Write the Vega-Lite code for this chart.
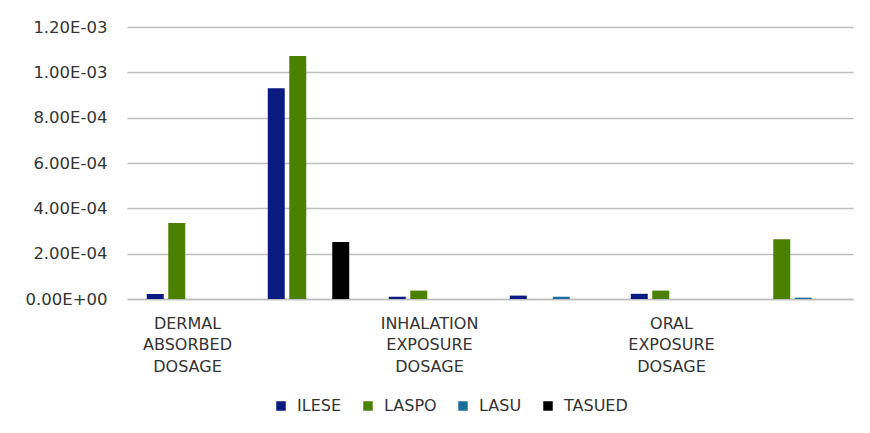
{
  "$schema": "https://vega.github.io/schema/vega-lite/v6.json",
  "autosize": {"type": "none"},
  "width": 726,
  "height": 272,
  "padding": {"left": 127, "top": 27, "right": 17, "bottom": 134},
  "background": "white",
  "config": {
    "view": {"stroke": null},
    "font": "DejaVu Sans"
  },
  "data": {
    "values": [
      {"category": "DERMAL ABSORBED DOSAGE", "site": "ILESE", "value": 0.000022},
      {"category": "DERMAL ABSORBED DOSAGE", "site": "LASPO", "value": 0.000335},
      {"category": "DERMAL ABSORBED DOSAGE (2)", "site": "ILESE", "value": 0.00093},
      {"category": "DERMAL ABSORBED DOSAGE (2)", "site": "LASPO", "value": 0.001072},
      {"category": "DERMAL ABSORBED DOSAGE (2)", "site": "TASUED", "value": 0.000251},
      {"category": "INHALATION EXPOSURE DOSAGE", "site": "ILESE", "value": 0.00001},
      {"category": "INHALATION EXPOSURE DOSAGE", "site": "LASPO", "value": 0.000037},
      {"category": "INHALATION EXPOSURE DOSAGE (2)", "site": "ILESE", "value": 0.000015},
      {"category": "INHALATION EXPOSURE DOSAGE (2)", "site": "LASU", "value": 0.00001},
      {"category": "ORAL EXPOSURE DOSAGE", "site": "ILESE", "value": 0.000023},
      {"category": "ORAL EXPOSURE DOSAGE", "site": "LASPO", "value": 0.000037},
      {"category": "ORAL EXPOSURE DOSAGE (2)", "site": "LASPO", "value": 0.000264},
      {"category": "ORAL EXPOSURE DOSAGE (2)", "site": "LASU", "value": 0.000006}
    ]
  },
  "mark": {"type": "bar"},
  "encoding": {
    "x": {
      "field": "category",
      "type": "nominal",
      "sort": null,
      "scale": {
        "domain": ["DERMAL ABSORBED DOSAGE", "DERMAL ABSORBED DOSAGE (2)", "INHALATION EXPOSURE DOSAGE", "INHALATION EXPOSURE DOSAGE (2)", "ORAL EXPOSURE DOSAGE", "ORAL EXPOSURE DOSAGE (2)"],
        "paddingInner": 0,
        "paddingOuter": 0
      },
      "axis": {
        "title": null,
        "labelAngle": 0,
        "labelExpr": "indexof(datum.label, '(2)') >= 0 ? '' : split(datum.label, ' ')",
        "labelFont": "DejaVu Sans",
        "labelFontSize": 16,
        "labelColor": "#333333",
        "labelBaseline": "middle",
        "labelLineHeight": 21.7,
        "labelPadding": 24,
        "labelLimit": 200,
        "ticks": false,
        "domain": true,
        "domainColor": "#bfbfbf",
        "domainWidth": 1.5,
        "grid": false
      }
    },
    "xOffset": {
      "field": "site",
      "type": "nominal",
      "scale": {"domain": ["ILESE", "LASPO", "LASU", "TASUED"], "paddingInner": 0.21, "paddingOuter": 0.92}
    },
    "y": {
      "field": "value",
      "type": "quantitative",
      "scale": {"domain": [0, 0.0012], "nice": false},
      "axis": {
        "title": null,
        "values": [0, 0.0002, 0.0004, 0.0006, 0.0008, 0.001, 0.0012],
        "labelExpr": "replace(replace(upper(format(datum.value, '.2e')), 'E-', 'E-0'), 'E+', 'E+0')",
        "labelFont": "DejaVu Sans",
        "labelFontSize": 16.5,
        "labelColor": "#333333",
        "labelPadding": 20,
        "ticks": false,
        "domain": false,
        "grid": true,
        "gridColor": "#bfbfbf",
        "gridWidth": 1.5
      }
    },
    "color": {
      "field": "site",
      "type": "nominal",
      "scale": {"domain": ["ILESE", "LASPO", "LASU", "TASUED"], "range": ["#0b1a80", "#4c8000", "#1a6e9e", "#000000"]},
      "legend": {
        "title": null,
        "orient": "none",
        "direction": "horizontal",
        "legendX": 146,
        "legendY": 371,
        "symbolType": "square",
        "symbolSize": 90,
        "symbolStrokeWidth": 0,
        "labelFont": "DejaVu Sans",
        "labelFontSize": 16,
        "labelColor": "#333333",
        "labelOffset": 8,
        "columnPadding": 18
      }
    }
  }
}
